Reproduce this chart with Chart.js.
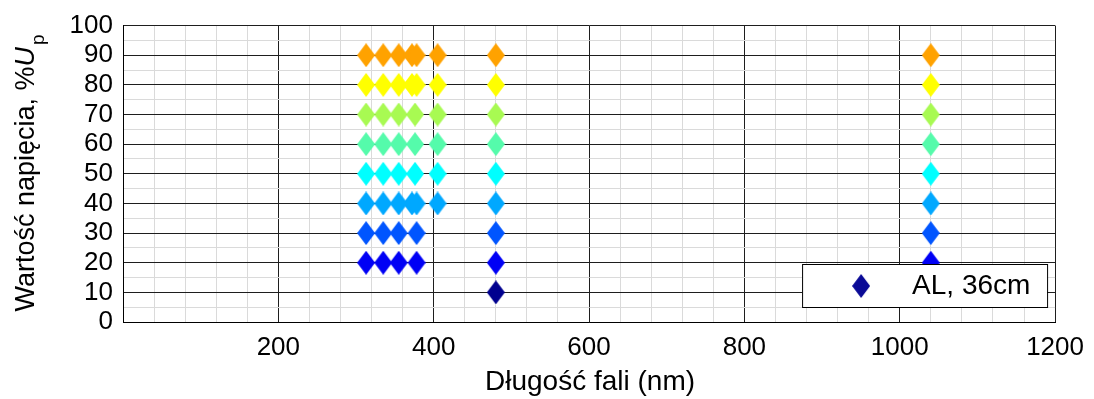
<!DOCTYPE html>
<html>
<head>
<meta charset="utf-8">
<script src="https://cdn.jsdelivr.net/npm/chart.js@4.4.1/dist/chart.umd.min.js"></script>
<style>
  html, body { margin: 0; padding: 0; background: #fff; }
  canvas { display: block; }
</style>
</head>
<body>
<canvas id="chart" width="1094" height="399"></canvas>
<script>
// ── DATOS ──
const levels = [90, 80, 70, 60, 50, 40, 30, 20, 10];
const wl90 = [313, 335, 355, 372, 378, 405, 480, 1040];
const wl80 = [313, 335, 355, 372, 378, 405, 480, 1040];
const wl70 = [313, 335, 355, 376, 405, 480, 1040];
const wl60 = [313, 335, 355, 376, 405, 480, 1040];
const wl50 = [313, 335, 355, 376, 405, 480, 1040];
const wl40 = [313, 335, 355, 372, 378, 405, 480, 1040];
const wl30 = [313, 335, 355, 378, 480, 1040];
const wl20 = [313, 335, 355, 378, 480, 1040];
const wl10 = [480];
const wavelengths = [wl90, wl80, wl70, wl60, wl50, wl40, wl30, wl20, wl10];
const levelColors = ['#ffa200', '#ffff00', '#a8fa52', '#55fbab', '#00ffff', '#00a8ff', '#0055ff', '#0000f5', '#00008f'];
const xTickLabels = [200, 400, 600, 800, 1000, 1200];
const yTickLabels = [0, 10, 20, 30, 40, 50, 60, 70, 80, 90, 100];
const seriesLabel = 'AL, 36cm';
const legendColor = '#0a0a96';

const FONT = '"Liberation Sans", Arial, sans-serif';

// ── MARCADOR ROMBO (tipo MATLAB 'd') ──
function makeDiamond(color, w, h) {
  const c = document.createElement('canvas');
  c.width = w; c.height = h;
  const g = c.getContext('2d');
  g.fillStyle = color;
  g.beginPath();
  g.moveTo(w / 2, 0);
  g.lineTo(w, h / 2);
  g.lineTo(w / 2, h);
  g.lineTo(0, h / 2);
  g.closePath();
  g.fill();
  return c;
}
const diamonds = levelColors.map(c => makeDiamond(c, 18, 24));

let points = [], styles = [];
levels.forEach((lv, i) => {
  wavelengths[i].forEach(wl => {
    points.push({ x: wl, y: lv });
    styles.push(diamonds[i]);
  });
});

// ── TÍTULOS DE EJES (Y con subíndice) ──
const titlesPlugin = {
  id: 'axisTitles',
  afterDraw(chart) {
    const ctx = chart.ctx;
    const a = chart.chartArea;
    const main = 'Wartość napięcia, %';
    ctx.save();
    ctx.fillStyle = '#000';
    ctx.textBaseline = 'alphabetic';
    ctx.font = '27px ' + FONT;
    const w1 = ctx.measureText(main).width;
    ctx.font = 'italic 27px ' + FONT;
    const w2 = ctx.measureText('U').width;
    ctx.font = '19px ' + FONT;
    const w3 = ctx.measureText('p').width;
    const total = w1 + w2 + w3;
    ctx.translate(34, 174);
    ctx.rotate(-Math.PI / 2);
    let x = -total / 2;
    ctx.font = '27px ' + FONT;
    ctx.fillText(main, x, 0);
    x += w1;
    ctx.font = 'italic 27px ' + FONT;
    ctx.fillText('U', x, 0);
    x += w2;
    ctx.font = '19px ' + FONT;
    ctx.fillText('p', x + 2, 10);
    ctx.restore();

    // título eje x
    ctx.save();
    ctx.fillStyle = '#000';
    ctx.font = '28px ' + FONT;
    ctx.textAlign = 'center';
    ctx.textBaseline = 'middle';
    ctx.fillText('Długość fali (nm)', (a.left + a.right) / 2 + 1, 382);
    ctx.restore();
  }
};

// ── LEYENDA DENTRO DEL ÁREA ──
const legendBoxPlugin = {
  id: 'legendBox',
  afterDatasetsDraw(chart) {
    const ctx = chart.ctx;
    const a = chart.chartArea;
    const bx = a.right - 253, by = a.bottom - 58, bw = 245, bh = 43;
    ctx.save();
    ctx.fillStyle = '#fff';
    ctx.fillRect(bx, by, bw, bh);
    ctx.strokeStyle = '#000';
    ctx.lineWidth = 1;
    ctx.strokeRect(bx + 0.5, by + 0.5, bw, bh);
    ctx.drawImage(makeDiamond(legendColor, 18, 24), bx + 50, by + 10);
    ctx.fillStyle = '#000';
    ctx.font = '28px ' + FONT;
    ctx.textBaseline = 'middle';
    ctx.fillText(seriesLabel, bx + 110, by + bh / 2 + 1);
    ctx.restore();
  }
};

const ctx = document.getElementById('chart').getContext('2d');
new Chart(ctx, {
  type: 'scatter',
  data: {
    datasets: [{
      label: seriesLabel,
      data: points,
      pointStyle: styles,
      pointRadius: 9,
      backgroundColor: legendColor,
      borderWidth: 0
    }]
  },
  options: {
    responsive: false,
    animation: false,
    layout: { padding: { top: 25, right: 37, left: 0, bottom: 0 } },
    plugins: { legend: { display: false }, tooltip: { enabled: false } },
    scales: {
      x: {
        type: 'linear',
        min: 0, max: 1200,
        afterFit: s => { s.height = 77; },
        border: { color: '#000', width: 1 },
        grid: {
          drawTicks: false,
          lineWidth: 1,
          color: c => (c.tick && c.tick.value % 200 === 0) ? '#1e1e1e' : '#dadada'
        },
        ticks: {
          stepSize: 40,
          autoSkip: false,
          maxRotation: 0,
          padding: 10,
          color: '#000',
          font: { family: FONT, size: 26 },
          callback: v => xTickLabels.includes(v) ? v : ''
        }
      },
      y: {
        type: 'linear',
        min: 0, max: 100,
        afterFit: s => { s.width = 123; },
        border: { color: '#000', width: 1 },
        grid: {
          drawTicks: false,
          lineWidth: 1,
          color: c => (c.tick && c.tick.value % 10 === 0) ? '#1e1e1e' : '#dadada'
        },
        ticks: {
          stepSize: 5,
          autoSkip: false,
          padding: 10,
          color: '#000',
          font: { family: FONT, size: 26 },
          callback: v => yTickLabels.includes(v) ? v : ''
        }
      }
    }
  },
  plugins: [titlesPlugin, legendBoxPlugin]
});
</script>
</body>
</html>
